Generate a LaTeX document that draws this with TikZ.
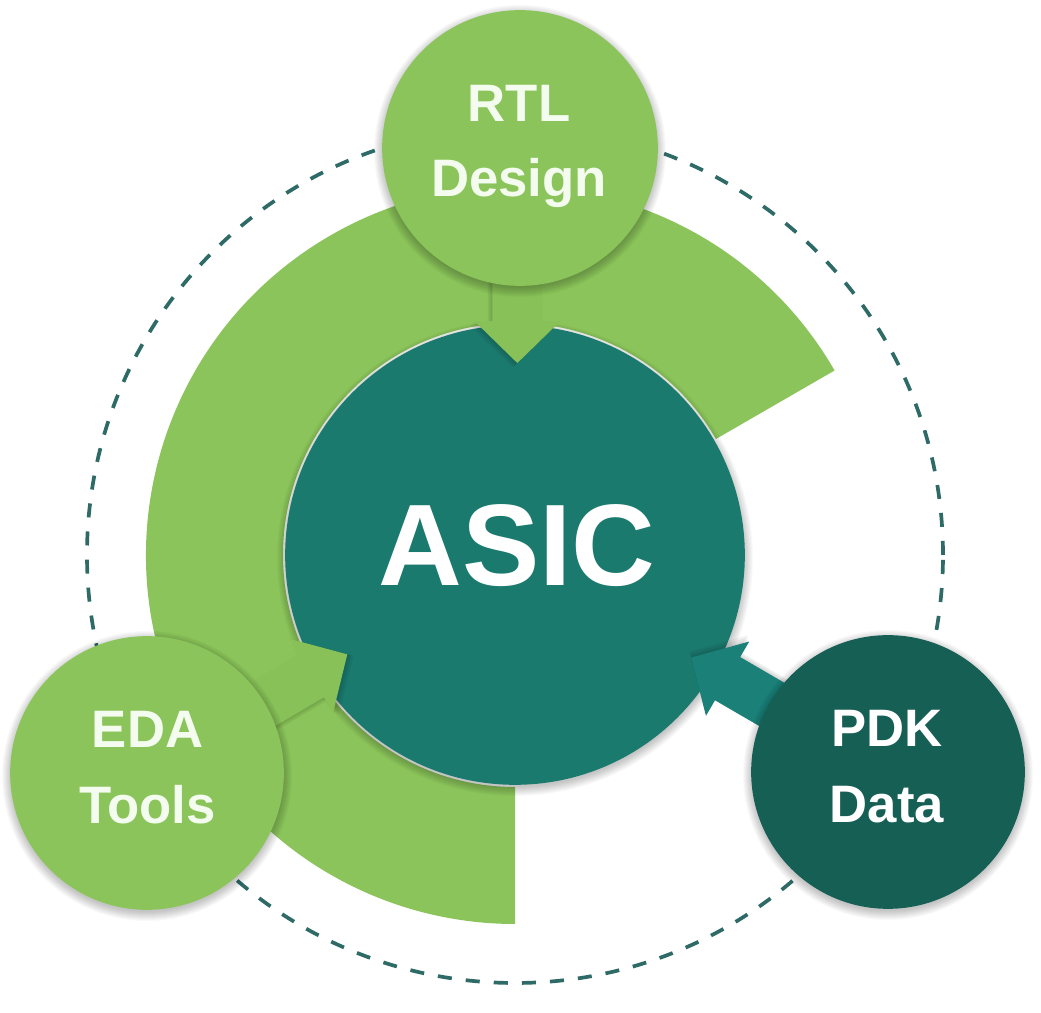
\documentclass[tikz,border=0pt]{standalone}
\usepackage{fontspec}
\setmainfont{Liberation Sans}
\usetikzlibrary{calc}
\definecolor{lgreen}{HTML}{8BC45A}
\definecolor{agreen}{HTML}{88C157}
\definecolor{tealmain}{HTML}{1B7A6E}
\definecolor{tealdark}{HTML}{165F55}
\definecolor{tealarrow}{HTML}{1A8078}
\definecolor{dashc}{HTML}{2E6A66}
\definecolor{txtc}{HTML}{F4FCEF}
\tikzset{
  satcircle/.style={circle, inner sep=0pt, minimum size=5.44cm, line width=1pt},
  sattext/.style={text=txtc, align=center, inner sep=0pt, font=\bfseries\fontsize{30}{43}\selectfont},
  shadowlayer/.style={fill=black, opacity=0.022},
  pics/blockarrow/.style={code={
    \foreach \k in {1,2,3}{
      \fill[black, opacity=0.05, shift={(1.5*\k,-1.5*\k)}] (0,0) -- (-42,43) -- (-42,25) -- (-130,25) -- (-130,-25) -- (-42,-25) -- (-42,-43) -- cycle;}
    \fill[#1] (0,0) -- (-42,43) -- (-42,25) -- (-130,25) -- (-130,-25) -- (-42,-25) -- (-42,-43) -- cycle;
  }},
  pics/circshadow/.style={code={
    \foreach \k in {0,...,9}{\fill[shadowlayer] (0,-3) circle[radius=#1+\k];}
  }}
}
\begin{document}
\begin{tikzpicture}[x=0.02cm, y=0.02cm]
\useasboundingbox (0,0) rectangle (1041,1013);
\fill[white] (0,0) rectangle (1041,1013);
% dashed orbit
\coordinate (c) at (515,458);
\draw[dashc, line width=2.1pt, dash pattern=on 8pt off 8pt] (c) circle[radius=428];
% ring segment
\fill[lgreen] (c) ++(30:369) arc[start angle=30, end angle=270, radius=369]
  -- ++(0,137) arc[start angle=270, end angle=30, radius=232] -- cycle;
% centre
\pic at (c) {circshadow=229};
\node[circle, fill=tealmain, draw=tealmain, line width=1pt, inner sep=0pt, minimum size=9.16cm] (asic) at (c) {};
% satellites (positions)
\coordinate (rtlc) at (520,865);
\coordinate (edac) at (147,240);
\coordinate (pdkc) at (888,241);
% arrows
\pic[rotate=-90] at ($(asic.center)!3.84cm!(rtlc)$) {blockarrow=agreen};
\pic[rotate=30.6] at ($(asic.center)!3.9cm!(edac)$) {blockarrow=agreen};
\pic[rotate=149.8] at ($(asic.center)!4.08cm!(pdkc)$) {blockarrow=tealarrow};
% satellite circles
\pic at (rtlc) {circshadow=137};
\pic at (edac) {circshadow=136};
\pic at (pdkc) {circshadow=136};
\node[satcircle, fill=lgreen, draw=lgreen, minimum size=5.48cm] (rtl) at (rtlc) {};
\node[satcircle, fill=lgreen, draw=lgreen] (eda) at (edac) {};
\node[satcircle, fill=tealdark, draw=tealdark] (pdk) at (pdkc) {};
% texts
\node[text=white, inner sep=0pt, font=\bfseries\fontsize{66}{70}\selectfont] (asict) at (517,467) {ASIC};
\node[sattext] (rtlt) at (519,866.5) {RTL\\Design};
\node[sattext] (edat) at (147.5,245.5) {EDA\\Tools};
\node[sattext, text=white] (pdkt) at (887,246.5) {PDK\\Data};
\end{tikzpicture}
\end{document}
